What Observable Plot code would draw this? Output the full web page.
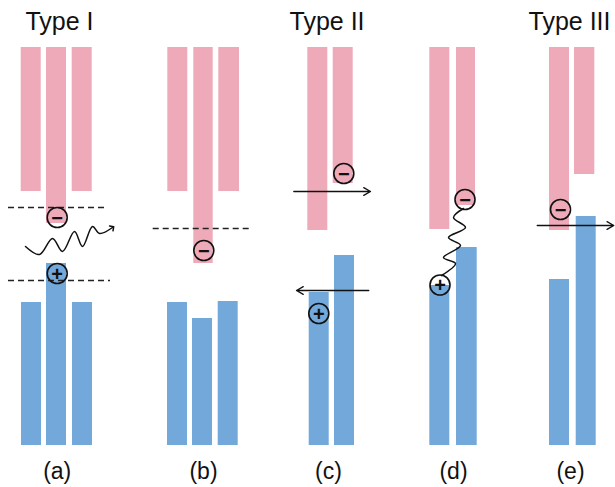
<!DOCTYPE html>
<html>
<head>
<meta charset="utf-8">
<script src="https://cdn.jsdelivr.net/npm/d3@7"></script>
<script src="https://cdn.jsdelivr.net/npm/@observablehq/plot@0.6"></script>
<style>
  html, body { margin: 0; padding: 0; background: #ffffff; }
  #chart svg { display: block; }
</style>
</head>
<body>
<div id="chart"></div>
<script>
// ---- Data (energy units, arbitrary; x in layout units) ----
const panelLabels = ["(a)", "(b)", "(c)", "(d)", "(e)"];
const panelLabelX = [5.67, 20.3, 32.8, 45.3, 57.0];

const typeTitles = ["Type I", "Type II", "Type III"];
const typeTitleX = [5.9, 32.65, 56.9];

// conduction bands (pink)
const cbLeft   = [2.07, 4.6, 7.17, 16.73, 19.33, 21.83, 30.73, 33.27, 42.93, 45.6, 54.9, 57.4];
const cbRight  = [4.07, 6.6, 9.17, 18.73, 21.27, 23.9, 32.73, 35.27, 44.93, 47.5, 56.9, 59.43];
const cbBottom = [25.4, 22.2, 25.4, 25.4, 18.2, 25.4, 21.5, 26.2, 21.6, 24.0, 21.5, 27.1];
const cbTop = 39.8;

// valence bands (blue)
const vbLeft  = [2.1, 4.6, 7.2, 16.7, 19.2, 21.77, 30.87, 33.4, 42.93, 45.6, 54.9, 57.57];
const vbRight = [4.1, 6.6, 9.2, 18.7, 21.2, 23.77, 32.87, 35.4, 44.93, 47.67, 56.9, 59.57];
const vbTop   = [14.3, 18.2, 14.3, 14.3, 12.7, 14.4, 15.3, 19.0, 16.0, 19.8, 16.6, 22.9];
const vbBottom = 0;

// dashed quasi-Fermi/confinement levels
const dashY  = [23.8, 16.5, 21.7];
const dashX1 = [0.8, 0.8, 15.27];
const dashX2 = [10.8, 11.0, 25.17];

// charges
const chargeSign = ["−", "+", "−", "−", "+", "−", "+", "−"];
const chargeX    = [5.67, 5.67, 20.33, 34.33, 31.83, 46.45, 43.95, 56.0];
const chargeY    = [22.8, 17.2, 19.5, 27.2, 13.2, 24.6, 16.05, 23.6];

// straight transfer arrows
const arrowX1 = [29.33, 36.83, 53.67];
const arrowX2 = [37.0, 29.6, 61.33];
const arrowY  = [25.4, 15.5, 22.0];

// wavy lines (photon emission in (a), recombination in (d))
const waveAX = [2.5, 3.9, 5.2, 6.2, 7.4, 8.2, 9.2, 9.9, 11.2];
const waveAY = [19.9, 19.1, 20.7, 19.4, 21.4, 19.9, 21.9, 21.2, 21.8];
const waveDX = [46.3, 45.3, 46.5, 44.8, 46.0, 44.3, 45.5, 44.1];
const waveDY = [23.7, 22.8, 21.8, 20.8, 20.0, 18.8, 18.2, 17.0];

// ---- build tables ----
const cb = cbLeft.map((l, i) => ({x1: l, x2: cbRight[i], y1: cbBottom[i], y2: cbTop}));
const vb = vbLeft.map((l, i) => ({x1: l, x2: vbRight[i], y1: vbBottom, y2: vbTop[i]}));
const dashes = dashY.map((y, i) => ({x1: dashX1[i], x2: dashX2[i], y}));
const charges = chargeSign.map((s, i) => ({s, x: chargeX[i], y: chargeY[i]}));
const arrows = arrowY.map((y, i) => ({x1: arrowX1[i], x2: arrowX2[i], y}));
const waveA = waveAX.map((x, i) => ({x, y: waveAY[i]}));
const waveD = waveDX.map((x, i) => ({x, y: waveDY[i]}));
const labels = panelLabels.map((t, i) => ({t, x: panelLabelX[i]}));
const titles = typeTitles.map((t, i) => ({t, x: typeTitleX[i]}));

const pink = "#eeaab8";
const blue = "#73a9da";
const font = "'Liberation Sans', Arial, sans-serif";

const chart = Plot.plot({
  width: 615,
  height: 487,
  margin: 0,
  style: {fontFamily: font, background: "#ffffff"},
  x: {domain: [0, 61.5], axis: null},
  y: {domain: [-4.2, 44.5], axis: null},
  marks: [
    Plot.rect(cb, {x1: "x1", x2: "x2", y1: "y1", y2: "y2", fill: pink}),
    Plot.rect(vb, {x1: "x1", x2: "x2", y1: "y1", y2: "y2", fill: blue}),
    Plot.ruleY(dashes, {x1: "x1", x2: "x2", y: "y", stroke: "#222", strokeWidth: 1.4, strokeDasharray: "6,4"}),
    Plot.arrow(arrows, {x1: "x1", x2: "x2", y1: "y", y2: "y", stroke: "#111", strokeWidth: 1.3, headLength: 9}),
    Plot.line(waveA, {x: "x", y: "y", curve: "catmull-rom", stroke: "#111", strokeWidth: 1.5, markerEnd: "arrow"}),
    Plot.line(waveD, {x: "x", y: "y", curve: "catmull-rom", stroke: "#111", strokeWidth: 1.5}),
    Plot.dot(charges, {x: "x", y: "y", r: 10, stroke: "#111", strokeWidth: 1.6, fill: "none"}),
    Plot.text(charges, {x: "x", y: "y", text: "s", fontSize: 20, fontWeight: "bold", fill: "#111", dy: 1}),
    Plot.text(titles, {x: "x", y: 41.6, text: "t", fontSize: 25, fill: "#111", lineAnchor: "bottom"}),
    Plot.text(labels, {x: "x", y: -3.3, text: "t", fontSize: 23, fill: "#111", lineAnchor: "bottom"})
  ]
});
document.getElementById("chart").appendChild(chart);
</script>
</body>
</html>
